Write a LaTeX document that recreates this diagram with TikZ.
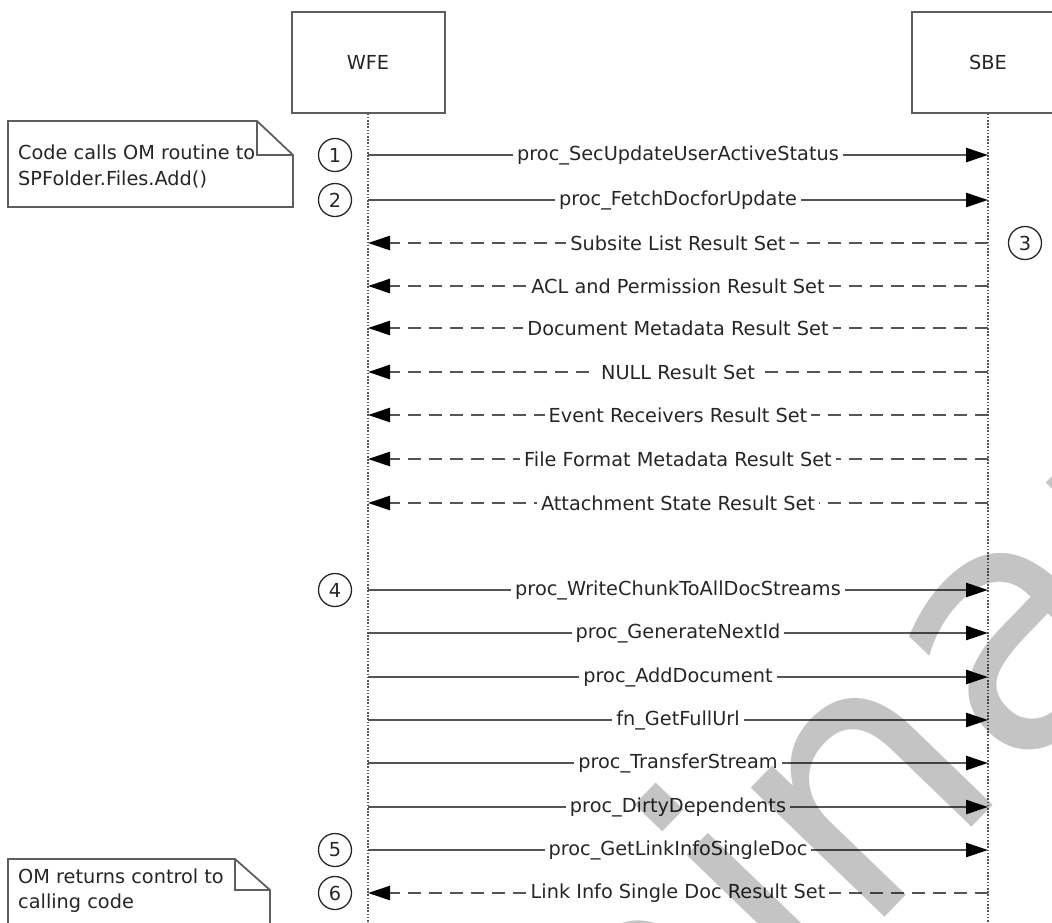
\documentclass[tikz,border=0pt]{standalone}
\usepackage{fontspec}
\setmainfont{DejaVu Sans}
\usetikzlibrary{arrows.meta}
\definecolor{linegray}{HTML}{555555}
\definecolor{boxgray}{HTML}{5E5E5E}
\definecolor{txtgray}{HTML}{262626}
\definecolor{wmgray}{HTML}{C4C4C4}
\begin{document}
\begin{tikzpicture}[x=1pt,y=-1pt,
  every node/.style={font=\fontsize{19.3}{23}\selectfont, text=txtgray},
  actor/.style={draw=boxgray, line width=2pt, minimum width=153pt, minimum height=101pt, fill=white, inner sep=0pt},
  lifeline/.style={draw=linegray, line width=1.8pt, dash pattern=on 1.6pt off 1.6pt},
  msgline/.style={draw=linegray, line width=2.6pt, -{Triangle[length=22pt,width=14pt,color=black,fill=black]}},
  retline/.style={msgline, dash pattern=on 13pt off 8pt},
  lbl/.style={fill=white, inner xsep=4pt, inner ysep=1pt},
  num/.style={circle, draw=txtgray, line width=1.3pt, minimum size=33pt, inner sep=0pt},
  notebox/.style={draw=boxgray, line width=1.8pt, fill=white},
  notetext/.style={anchor=base west, inner sep=0pt}
]
\path[use as bounding box] (0,0) rectangle (1052,922);
\clip (0,0) rectangle (1052,922);

% actors
\node[actor] (wfe) at (368,62) {WFE};
\node[actor] (sbe) at (988,62) {SBE};

% lifelines
\coordinate (wfeend) at (368,922);
\coordinate (sbeend) at (988,922);
\draw[lifeline] (wfe.south) -- (wfeend);
\draw[lifeline] (sbe.south) -- (sbeend);

% calls WFE -> SBE
\foreach \y/\t [count=\i] in {
  155/proc\_SecUpdateUserActiveStatus,
  200/proc\_FetchDocforUpdate,
  590/proc\_WriteChunkToAllDocStreams,
  633/proc\_GenerateNextId,
  677/proc\_AddDocument,
  720/fn\_GetFullUrl,
  763/proc\_TransferStream,
  807/proc\_DirtyDependents,
  850/proc\_GetLinkInfoSingleDoc}{
  \coordinate (cw\i) at (368,\y);
  \coordinate (cs\i) at (988,\y);
  \draw[msgline] (cw\i) -- node[lbl] (cl\i) {\t} (cs\i);
}

% result sets SBE -> WFE
\foreach \y/\t [count=\i] in {
  243/Subsite List Result Set,
  286/ACL and Permission Result Set,
  328/Document Metadata Result Set,
  372/NULL Result Set,
  415/Event Receivers Result Set,
  459/File Format Metadata Result Set,
  503/Attachment State Result Set,
  893/Link Info Single Doc Result Set}{
  \coordinate (rs\i) at (988,\y);
  \coordinate (rw\i) at (368,\y);
  \draw[retline] (rs\i) -- node[lbl] (rl\i) {\t} (rw\i);
}

% step numbers
\node[num] (n1) at (335,155) {1};
\node[num] (n2) at (335,200) {2};
\node[num] (n3) at (1025,243) {3};
\node[num] (n4) at (335,590) {4};
\node[num] (n5) at (335,850) {5};
\node[num] (n6) at (335,893) {6};

% note 1
\draw[notebox] (8,121) -- (257,121) -- (293,155) -- (293,207) -- (8,207) -- cycle;
\draw[draw=boxgray, line width=1.8pt] (257,121) -- (257,155) -- (293,155);
\node[notetext] (note1a) at (18,159) {Code calls OM routine to};
\node[notetext] (note1b) at (18,185) {SPFolder.Files.Add()};

% note 2
\draw[notebox] (8,859) -- (235,859) -- (270,890) -- (270,940) -- (8,940) -- cycle;
\draw[draw=boxgray, line width=1.8pt] (235,859) -- (235,890) -- (270,890);
\node[notetext] (note2a) at (18,883) {OM returns control to};
\node[notetext] (note2b) at (18,908) {calling code};

% watermark
\begin{scope}[blend mode=multiply]
\node[rotate=46, anchor=base, inner sep=0pt, font=\fontsize{340}{340}\selectfont, text=wmgray] (wm) at (728,1080) {Preliminary};
\end{scope}
\end{tikzpicture}
\end{document}
